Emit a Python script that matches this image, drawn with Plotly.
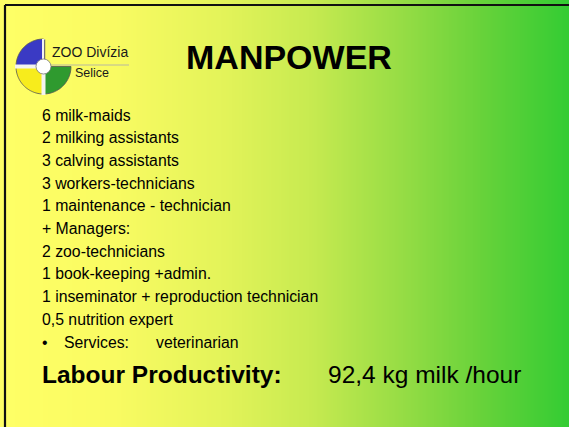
import numpy as np
import plotly.graph_objects as go

W, H = 569, 427

title = "MANPOWER"
logo_name = "ZOO Divízia"
logo_place = "Selice"
staff_lines = [
    "6 milk-maids",
    "2 milking assistants",
    "3 calving assistants",
    "3 workers-technicians",
    "1 maintenance - technician",
    "+ Managers:",
    "2 zoo-technicians",
    "1 book-keeping +admin.",
    "1 inseminator + reproduction technician",
    "0,5 nutrition expert",
]
services_label = "Services:"
services_value = "veterinarian"
productivity_label = "Labour Productivity:"
productivity_value = 92.4
productivity_unit = "kg milk /hour"

grad_pos = [0.0, 0.2, 0.4, 0.55, 0.7, 0.85, 1.0]
grad_col = ["#ffff66", "#f9fb62", "#e2f359", "#c6ea50", "#98dd45", "#66d23a", "#33cc33"]

FONT = "Liberation Sans, Arial, sans-serif"

fig = go.Figure()

# background gradient
gx = np.linspace(0, W, 60)
gz = [list(gx / W), list(gx / W)]
fig.add_trace(go.Heatmap(
    x=gx, y=[0, H], z=gz, zsmooth="best", showscale=False,
    colorscale=[[p, c] for p, c in zip(grad_pos, grad_col)],
    zmin=0, zmax=1, hoverinfo="skip",
))

shapes = []
# frame lines (top and left)
shapes.append(dict(type="line", x0=5, y0=5, x1=W + 5, y1=5,
                   line=dict(color="#111111", width=2.2), layer="above"))
shapes.append(dict(type="line", x0=5, y0=5, x1=5, y1=H + 5,
                   line=dict(color="#111111", width=2.2), layer="above"))

# logo
cx, cy, r = 43.5, 66.5, 27.5


def sector(a0, a1):
    th = np.radians(np.linspace(a0, a1, 40))
    xs = cx + r * np.cos(th)
    ys = cy - r * np.sin(th)
    pts = [f"L{x:.2f},{y:.2f}" for x, y in zip(xs, ys)]
    return f"M{cx},{cy} " + " ".join(pts) + " Z"


for a0, a1, col in [(90, 180, "#3a3ac4"), (180, 270, "#f7ec1c"), (270, 360, "#2f9a2f")]:
    shapes.append(dict(type="path", path=sector(a0, a1), fillcolor=col,
                       line=dict(color="#555555", width=0.8), layer="above"))

# white separating cross
shapes.append(dict(type="line", x0=cx - r - 1, y0=cy, x1=cx, y1=cy,
                   line=dict(color="#f4f4f0", width=4), layer="above"))
shapes.append(dict(type="line", x0=cx, y0=cy, x1=cx, y1=cy + r + 1,
                   line=dict(color="#f4f4f0", width=4), layer="above"))
shapes.append(dict(type="line", x0=cx, y0=cy - r, x1=cx, y1=cy,
                   line=dict(color="#f4f4f0", width=3), layer="above"))
# thin dark vertical line and grey underline
shapes.append(dict(type="line", x0=cx + 1.2, y0=cy - r + 0.5, x1=cx + 1.2, y1=cy - 3,
                   line=dict(color="#555555", width=1), layer="above"))
shapes.append(dict(type="line", x0=cx + 6, y0=cy - 1.5, x1=129, y1=cy - 1.5,
                   line=dict(color="#b8b8a0", width=1), layer="above"))
# centre circle
shapes.append(dict(type="circle", x0=cx - 7.5, y0=cy - 7.5, x1=cx + 7.5, y1=cy + 7.5,
                   fillcolor="#ffffff", line=dict(color="#777777", width=0.8), layer="above"))

ann = []


def txt(x, y, s, size, bold=False, anchor="left", color="#000000"):
    ann.append(dict(x=x, y=y, xref="x", yref="y", text=(f"<b>{s}</b>" if bold else s),
                    showarrow=False, xanchor=anchor, yanchor="middle",
                    font=dict(family=FONT, size=size, color=color)))


txt(50, 52, logo_name, 14, color="#1a1a1a")
txt(73, 73, logo_place, 12.5, color="#1a1a1a")
txt(289, 57, title, 34, bold=True, anchor="center")

y0, dy = 115, 22.7
for i, line in enumerate(staff_lines):
    txt(40, y0 + i * dy, line, 15.8)
ys = y0 + len(staff_lines) * dy
txt(40, ys, "•", 15.8)
txt(62, ys, services_label, 15.8)
txt(154, ys, services_value, 15.8)

txt(40, 374, productivity_label, 24.5, bold=True)
txt(326, 374, f"{productivity_value:.1f}".replace(".", ",") + " " + productivity_unit, 24.5)

fig.update_layout(
    width=W, height=H, margin=dict(l=0, r=0, t=0, b=0),
    xaxis=dict(range=[0, W], visible=False, fixedrange=True),
    yaxis=dict(range=[H, 0], visible=False, fixedrange=True),
    shapes=shapes, annotations=ann, showlegend=False,
    paper_bgcolor="#ffff66", plot_bgcolor="#ffff66",
)

fig.write_html(
    "out.html",
    config={"displayModeBar": False},
    post_script="document.body.style.margin='0';document.body.style.overflow='hidden';",
)
